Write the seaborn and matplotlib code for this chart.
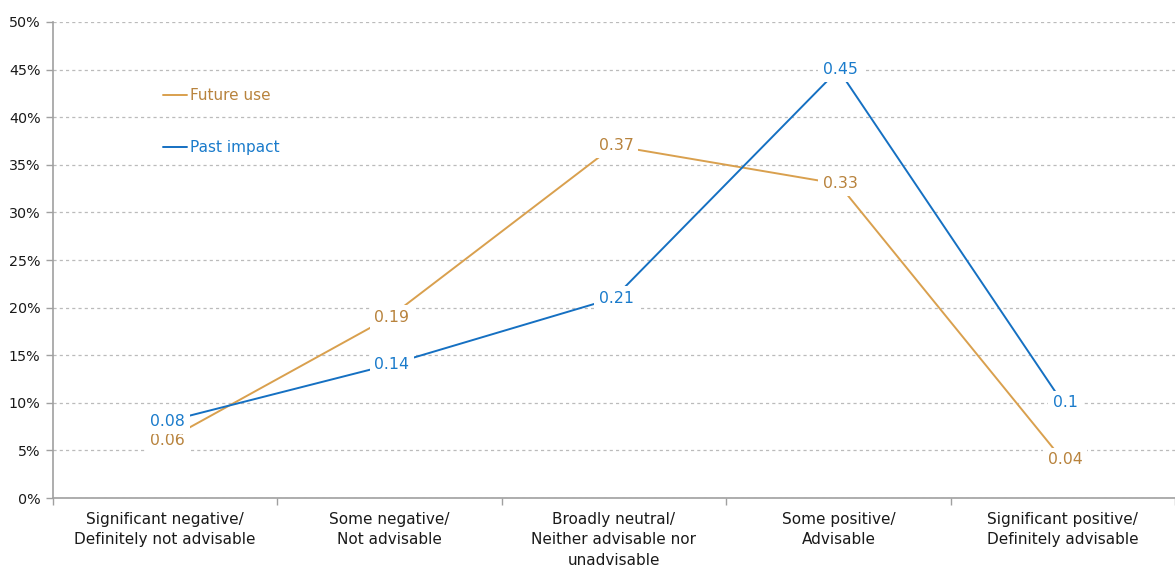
import matplotlib
matplotlib.use("Agg")
import matplotlib.pyplot as plt
import matplotlib.ticker as mticker
from matplotlib.lines import Line2D
import seaborn as sns
import pandas as pd

categories = [
    "Significant negative/\nDefinitely not advisable",
    "Some negative/\nNot advisable",
    "Broadly neutral/\nNeither advisable nor\nunadvisable",
    "Some positive/\nAdvisable",
    "Significant positive/\nDefinitely advisable",
]
future_use = [0.06, 0.19, 0.37, 0.33, 0.04]
past_impact = [0.08, 0.14, 0.21, 0.45, 0.10]
value_labels_future = ["0.06", "0.19", "0.37", "0.33", "0.04"]
value_labels_past = ["0.08", "0.14", "0.21", "0.45", "0.1"]
y_ticks = [0, 0.05, 0.10, 0.15, 0.20, 0.25, 0.30, 0.35, 0.40, 0.45, 0.50]

series = {
    "Future use": (future_use, value_labels_future, "#D9A04E", "#B8833D"),
    "Past impact": (past_impact, value_labels_past, "#1570C2", "#1A7BCB"),
}

rows = []
for name, (vals, _, _, _) in series.items():
    for i, v in enumerate(vals):
        rows.append({"pos": i, "value": v, "series": name})
df = pd.DataFrame(rows)

sns.set_theme(style="white")
plt.rcParams["font.family"] = ["DejaVu Sans"]

fig = plt.figure(figsize=(11.75, 5.68), dpi=100)
ax = fig.add_axes([0.0451, 0.1232, 0.9549, 0.8381])

palette = {name: spec[2] for name, spec in series.items()}
sns.lineplot(data=df, x="pos", y="value", hue="series", palette=palette,
             linewidth=1.4, ax=ax, legend=False, sort=False)

# value labels sitting on the points, masking the line beneath
for name, (vals, labs, _, tcol) in series.items():
    for i, (v, lab) in enumerate(zip(vals, labs)):
        ax.text(i + 0.01, v, lab, ha="center", va="center", fontsize=11.3,
                color=tcol, zorder=5,
                bbox=dict(boxstyle="square,pad=0.3", fc="white", ec="none"))

ax.set_xlim(-0.5, 4.5)
ax.set_ylim(0, 0.5)
ax.set_yticks(y_ticks)
ax.yaxis.set_major_formatter(mticker.FuncFormatter(lambda v, p: f"{round(v * 100)}%"))
ax.set_xticks(range(len(categories)))
ax.set_xticklabels(categories, fontsize=11, color="#1A1A1A", linespacing=1.45)
ax.set_xticks([i - 0.5 for i in range(len(categories) + 1)], minor=True)
ax.tick_params(axis="x", which="major", length=0, pad=10)
ax.tick_params(axis="x", which="minor", length=5, color="#A0A0A0", width=1, direction="out", bottom=True)
ax.tick_params(axis="y", which="major", length=5, color="#A0A0A0", width=1, direction="out",
               labelsize=10.3, labelcolor="#1A1A1A", left=True, pad=4)
ax.set_xlabel("")
ax.set_ylabel("")

ax.grid(axis="y", linestyle=(0, (2.5, 2.5)), color="#BBBBBB", linewidth=0.9)
ax.set_axisbelow(True)
for side in ["top", "right"]:
    ax.spines[side].set_visible(False)
for side in ["left", "bottom"]:
    ax.spines[side].set_color("#A0A0A0")
    ax.spines[side].set_linewidth(1.2)

# legend entries drawn as short line keys with coloured text
handles = [Line2D([], [], color=spec[2], linewidth=1.4) for spec in series.values()]
leg = ax.legend(handles, list(series.keys()), loc="upper left", bbox_to_anchor=(0.0925, 0.874),
                frameon=False, fontsize=11, handlelength=1.55, handletextpad=0.2,
                labelspacing=2.42, borderaxespad=0)
for t, spec in zip(leg.get_texts(), series.values()):
    t.set_color(spec[3])

fig.savefig("out.png", dpi=100)
